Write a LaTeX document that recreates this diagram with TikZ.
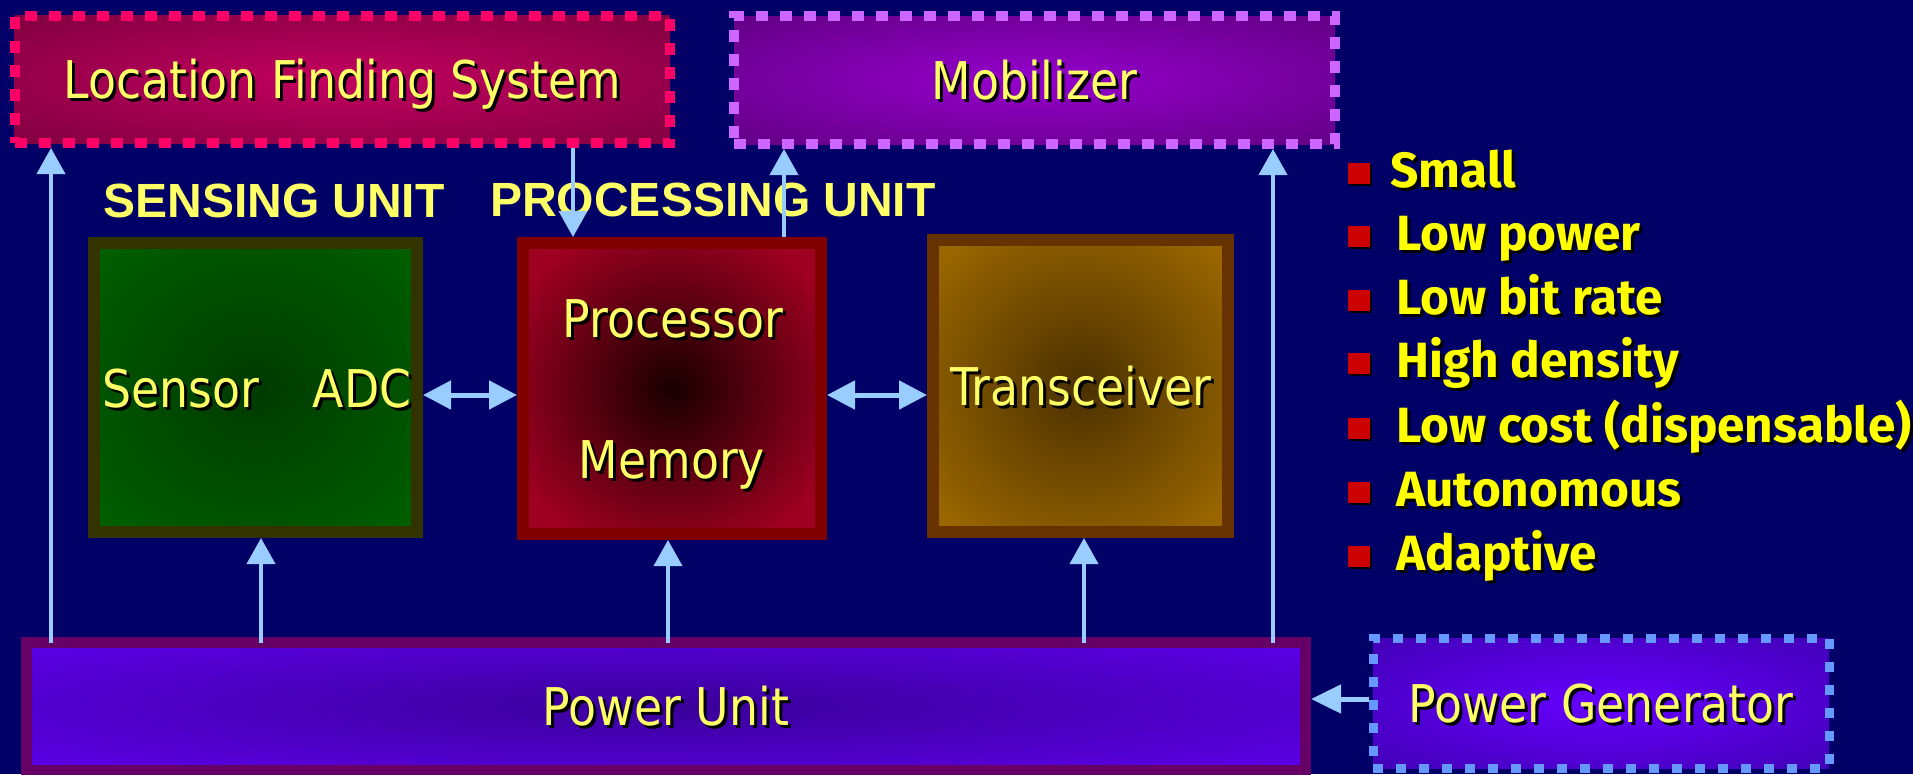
\documentclass[tikz,border=0pt]{standalone}
\usepackage{fontspec}
\setmainfont[FakeStretch=0.88]{DejaVu Sans}
\newfontfamily\headfont{Liberation Sans}
\newfontfamily\bulfont{Fira Sans}
\usetikzlibrary{arrows.meta,shadows}
\definecolor{bg}{HTML}{000066}
\definecolor{arr}{HTML}{99CCFF}
\definecolor{lbl}{HTML}{FFFF66}
\definecolor{blt}{HTML}{FFFF00}
\definecolor{bsq}{HTML}{CC0000}
\definecolor{lfsdash}{HTML}{FF0066}
\definecolor{lfsin}{HTML}{C4005F}
\definecolor{lfsout}{HTML}{660035}
\definecolor{mobdash}{HTML}{CC66FF}
\definecolor{mobin}{HTML}{9500CC}
\definecolor{mobout}{HTML}{4F0068}
\definecolor{sensbd}{HTML}{333300}
\definecolor{sensin}{HTML}{003A00}
\definecolor{sensout}{HTML}{006600}
\definecolor{procbd}{HTML}{800000}
\definecolor{procin}{HTML}{180000}
\definecolor{procout}{HTML}{A00022}
\definecolor{transbd}{HTML}{663300}
\definecolor{transin}{HTML}{4A3000}
\definecolor{transout}{HTML}{996600}
\definecolor{pubd}{HTML}{660066}
\definecolor{puin}{HTML}{3A0099}
\definecolor{puout}{HTML}{6600FF}
\definecolor{pgdash}{HTML}{6699FF}
\definecolor{pgin}{HTML}{6600FF}
\definecolor{pgout}{HTML}{330099}
\pgfdeclareradialshading{lfsshade}{\pgfpoint{0bp}{0bp}}{color(0bp)=(lfsin); color(50bp)=(lfsout); color(72bp)=(lfsout)}
\pgfdeclareradialshading{mobshade}{\pgfpoint{0bp}{0bp}}{color(0bp)=(mobin); color(50bp)=(mobout); color(72bp)=(mobout)}
\pgfdeclareradialshading{sensshade}{\pgfpoint{0bp}{0bp}}{color(0bp)=(sensin); color(40bp)=(sensout); color(72bp)=(sensout)}
\pgfdeclareradialshading{procshade}{\pgfpoint{0bp}{0bp}}{color(0bp)=(procin); color(30bp)=(procout); color(72bp)=(procout)}
\pgfdeclareradialshading{transshade}{\pgfpoint{0bp}{0bp}}{color(0bp)=(transin); color(32bp)=(transout); color(72bp)=(transout)}
\pgfdeclareradialshading{pushade}{\pgfpoint{0bp}{0bp}}{color(0bp)=(puin); color(45bp)=(puout); color(72bp)=(puout)}
\pgfdeclareradialshading{pgshade}{\pgfpoint{0bp}{0bp}}{color(0bp)=(pgin); color(50bp)=(pgout); color(72bp)=(pgout)}
\newcommand\shtxt[1]{\leavevmode\rlap{\kern3pt\raisebox{-3pt}{\color{black}#1}}#1}
\begin{document}
\begin{tikzpicture}[x=1pt,y=-1pt,
  boxlbl/.style={text=lbl, font=\fontsize{52}{60}\selectfont, text height=38pt, text depth=0pt, inner sep=0pt},
  dotbox/.style={boxlbl, line width=10, dash pattern=on 12pt off 12pt},
  solidbox/.style={boxlbl, line width=12},
  hdr/.style={text=lbl, font=\headfont\bfseries\fontsize{48}{56}\selectfont, text height=35pt, text depth=0pt, inner sep=0pt},
  bultxt/.style={text=blt, font=\bulfont\bfseries\fontsize{49.5}{58}\selectfont, inner sep=0pt, anchor=base west},
  bulsq/.style={fill=bsq, minimum width=22, minimum height=21, inner sep=0pt, drop shadow={shadow xshift=2pt, shadow yshift=-2pt, fill=black, opacity=1}},
  uparrow/.style={draw=arr, line width=4, -{Triangle[width=28pt,length=26pt]}, shorten <=-6pt},
  dblarrow/.style={draw=arr, line width=5, {Triangle[width=28pt,length=28pt]}-{Triangle[width=28pt,length=28pt]}},
  sidearrow/.style={draw=arr, line width=5, -{Triangle[width=28pt,length=30pt]}}
]
\useasboundingbox (0,0) rectangle (1913,774);
\fill[bg] (0,0) rectangle (1913,774);

% top boxes
\node[dotbox, draw=lfsdash, shading=lfsshade, minimum width=655.5, minimum height=127.5] (lfs) at (342.25,79.25) {\shtxt{Location Finding System}};
\node[dotbox, draw=mobdash, shading=mobshade, minimum width=601, minimum height=128] (mob) at (1034.5,80) {\shtxt{Mobilizer}};

% headers
\node[hdr] (sensing) at (274,199.5) {SENSING UNIT};
\node[hdr] (processing) at (713,199) {PROCESSING UNIT};

% unit boxes
\node[solidbox, draw=sensbd, shading=sensshade, minimum width=323, minimum height=289] (sens) at (255.5,387.5) {};
\node[boxlbl] (sensortxt) at (181,388) {\shtxt{Sensor}};
\node[boxlbl] (adctxt) at (362,388) {\shtxt{ADC}};
\node[solidbox, draw=procbd, shading=procshade, minimum width=298, minimum height=291] (proc) at (672,388.5) {};
\node[boxlbl] (proctxt) at (673,318.5) {\shtxt{Processor}};
\node[boxlbl] (memtxt) at (672,459) {\shtxt{Memory}};
\node[solidbox, draw=transbd, shading=transshade, minimum width=295, minimum height=292] (trans) at (1080.5,386) {\shtxt{Transceiver}};

% power
\node[solidbox, line width=11, draw=pubd, shading=pushade, minimum width=1279, minimum height=128] (pu) at (666,706.5) {\shtxt{Power Unit}};
\node[boxlbl, line width=9, draw=pgdash, dash pattern=on 10pt off 13pt, shading=pgshade, minimum width=456, minimum height=130] (pg) at (1601,703) {\shtxt{Power Generator}};

% bullets
\node[bulsq] (s1) at (1359,173) {};
\node[bulsq] (s2) at (1359,236) {};
\node[bulsq] (s3) at (1359,300) {};
\node[bulsq] (s4) at (1359,363) {};
\node[bulsq] (s5) at (1359,428) {};
\node[bulsq] (s6) at (1359,492) {};
\node[bulsq] (s7) at (1359,556) {};
\node[bultxt] (b1) at (1390,187) {\shtxt{Small}};
\node[bultxt] (b2) at (1396,250) {\shtxt{Low power}};
\node[bultxt] (b3) at (1396,314) {\shtxt{Low bit rate}};
\node[bultxt] (b4) at (1396,377) {\shtxt{High density}};
\node[bultxt] (b5) at (1396,442) {\shtxt{Low cost (dispensable)}};
\node[bultxt] (b6) at (1396,506) {\shtxt{Autonomous}};
\node[bultxt] (b7) at (1396,570) {\shtxt{Adaptive}};

% connector helpers
\coordinate (xL) at (51,0);
\coordinate (xR) at (1273,0);
\coordinate (xS) at (261,0);
\coordinate (xP) at (668,0);
\coordinate (xT) at (1084,0);
\coordinate (xA) at (573,0);
\coordinate (xB) at (784,0);
\coordinate (yD) at (0,395);
\coordinate (yG) at (0,699);

\draw[uparrow] (pu.north -| xL) -- (lfs.south -| xL);
\draw[uparrow] (pu.north -| xR) -- (mob.south -| xR);
\draw[uparrow] (pu.north -| xS) -- (sens.south -| xS);
\draw[uparrow] (pu.north -| xP) -- (proc.south -| xP);
\draw[uparrow] (pu.north -| xT) -- (trans.south -| xT);
\draw[uparrow, shorten <=0pt] (lfs.south -| xA) -- (proc.north -| xA);
\draw[uparrow, shorten <=0pt] (proc.north -| xB) -- (mob.south -| xB);
\draw[dblarrow] (sens.east |- yD) -- (proc.west |- yD);
\draw[dblarrow] (proc.east |- yD) -- (trans.west |- yD);
\draw[sidearrow] (pg.west |- yG) -- (pu.east |- yG);
\end{tikzpicture}
\end{document}
